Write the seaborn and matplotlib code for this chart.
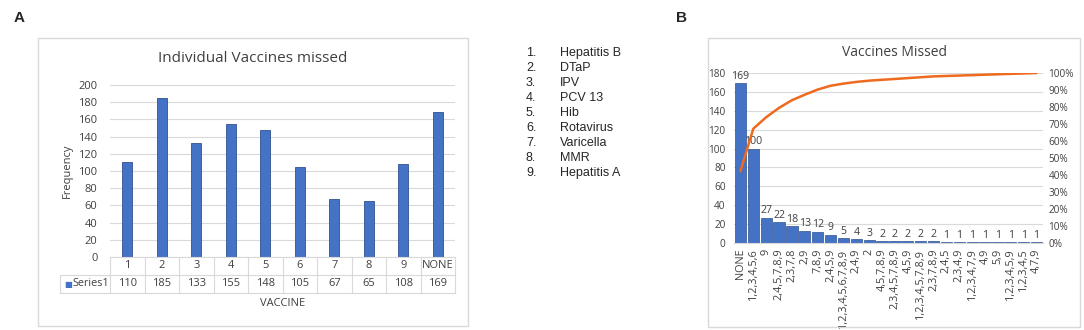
import numpy as np
import pandas as pd
import matplotlib
matplotlib.use("Agg")
import matplotlib.pyplot as plt
import matplotlib.transforms as mtransforms
from matplotlib.patches import Rectangle
import seaborn as sns

# --- data -----------------------------------------------------------------
vaccines_a = ["1", "2", "3", "4", "5", "6", "7", "8", "9", "NONE"]
missed_a = [110, 185, 133, 155, 148, 105, 67, 65, 108, 169]

key_nums = ["1.", "2.", "3.", "4.", "5.", "6.", "7.", "8.", "9."]
key_names = ["Hepatitis B", "DTaP", "IPV", "PCV 13", "Hib", "Rotavirus",
             "Varicella", "MMR", "Hepatitis A"]

combos_b = ["NONE", "1,2,3,4,5,6", "9", "2,4,5,7,8,9", "2,3,7,8", "2,9", "7,8,9",
            "2,4,5,9", "1,2,3,4,5,6,7,8,9", "2,4,9", "2", "4,5,7,8,9",
            "2,3,4,5,7,8,9", "4,5,9", "1,2,3,4,5,7,8,9", "2,3,7,8,9", "2,4,5",
            "2,3,4,9", "1,2,3,4,7,9", "4,9", "5,9", "1,2,3,4,5,9", "1,2,3,4,5",
            "4,7,9"]
missed_b = [169, 100, 27, 22, 18, 13, 12, 9, 5, 4, 3, 2, 2, 2, 2, 2,
            1, 1, 1, 1, 1, 1, 1, 1]

BLUE = "#4472C4"
EDGE = "#2F528F"
ORANGE = "#ED6A1E"
GRID = "#D9D9D9"
TXT = "#404040"

sns.set_style("white")
plt.rcParams["font.family"] = ["Open Sans", "DejaVu Sans"]

W, H = 1084, 330
fig = plt.figure(figsize=(W / 100, H / 100), dpi=100)


def fx(px):
    return px / W


def fy(py):
    return 1 - py / H


# panel letters
fig.text(fx(14), fy(18), "A", fontweight="bold", fontsize=11,
         family="Liberation Sans", va="center")
fig.text(fx(676), fy(18), "B", fontweight="bold", fontsize=11,
         family="Liberation Sans", va="center")

# chart frames
for x0, y0, x1, y1 in [(38, 38, 468, 326), (708, 38, 1080, 327)]:
    fig.patches.append(Rectangle((fx(x0), fy(y1)), fx(x1 - x0), (y1 - y0) / H,
                                 transform=fig.transFigure, fill=False,
                                 edgecolor=GRID, lw=1))

# chart titles, centred on the frames
fig.text(fx(253), fy(59), "Individual Vaccines missed", fontsize=11,
         color=TXT, ha="center", va="center")
fig.text(fx(894), fy(53), "Vaccines Missed", fontsize=10, color=TXT,
         ha="center", va="center")

# --- panel A --------------------------------------------------------------
axA = fig.add_axes([fx(110), fy(257), fx(345), (257 - 85) / H])
dfA = pd.DataFrame({"vaccine": vaccines_a, "freq": missed_a})
sns.barplot(data=dfA, x="vaccine", y="freq", color=BLUE, width=0.3,
            edgecolor=EDGE, linewidth=0.6, saturation=1, ax=axA)
axA.set_ylim(0, 200)
axA.set_xlim(-0.5, len(vaccines_a) - 0.5)
axA.set_yticks(range(0, 201, 20))
axA.yaxis.grid(True, color=GRID, lw=0.8)
axA.set_axisbelow(True)
for s in axA.spines.values():
    s.set_visible(False)
axA.tick_params(axis="y", length=0, labelsize=8, labelcolor=TXT, pad=9)
axA.set_xticks([])
axA.set_xlabel("")
axA.set_ylabel("Frequency", fontsize=8, color=TXT, labelpad=4)

# data table under the chart
row_h = 18 / 172
lab_w = 50 / 345
blend = mtransforms.blended_transform_factory(axA.transData, axA.transAxes)
tab_kw = dict(color=GRID, lw=0.8, clip_on=False)
axA.plot([0, 1], [0, 0], transform=axA.transAxes, **tab_kw)
axA.plot([-lab_w, 1], [-row_h, -row_h], transform=axA.transAxes, **tab_kw)
axA.plot([-lab_w, 1], [-2 * row_h, -2 * row_h], transform=axA.transAxes, **tab_kw)
axA.plot([-lab_w, -lab_w], [-row_h, -2 * row_h], transform=axA.transAxes, **tab_kw)
for i in range(len(vaccines_a) + 1):
    axA.plot([i - 0.5, i - 0.5], [0, -2 * row_h], transform=blend, **tab_kw)
for i, (c, v) in enumerate(zip(vaccines_a, missed_a)):
    axA.text(i, -0.5 * row_h, c, transform=blend, ha="center", va="center",
             fontsize=8, color=TXT)
    axA.text(i, -1.5 * row_h, str(v), transform=blend, ha="center", va="center",
             fontsize=8, color=TXT)
axA.text(-lab_w + 0.012, -1.5 * row_h, "\u25a0", transform=axA.transAxes,
         ha="left", va="center", fontsize=6, color=BLUE,
         family="DejaVu Sans")
axA.text(-lab_w + 0.035, -1.5 * row_h, "Series1", transform=axA.transAxes,
         ha="left", va="center", fontsize=7.8, color=TXT)
axA.text(0.5, -(303 - 257) / 172, "VACCINE", transform=axA.transAxes,
         ha="center", va="center", fontsize=8, color=TXT)

# --- key list -------------------------------------------------------------
for i, (n, name) in enumerate(zip(key_nums, key_names)):
    y = fy(53 + 15 * i)
    fig.text(fx(526), y, n, fontsize=9, family="Liberation Sans", va="center")
    fig.text(fx(560), y, name, fontsize=9, family="Liberation Sans", va="center")

# --- panel B --------------------------------------------------------------
axB = fig.add_axes([fx(734), fy(243), fx(309), (243 - 73) / H])
dfB = pd.DataFrame({"combo": combos_b, "freq": missed_b})
sns.barplot(data=dfB, x="combo", y="freq", color=BLUE, width=0.88,
            edgecolor=EDGE, linewidth=0.5, saturation=1, ax=axB)
axB.set_ylim(0, 180)
axB.set_xlim(-0.5, len(combos_b) - 0.5)
axB.set_yticks(range(0, 181, 20))
axB.yaxis.grid(True, color=GRID, lw=0.8)
axB.set_axisbelow(True)
for s in axB.spines.values():
    s.set_visible(False)
axB.spines["bottom"].set_visible(True)
axB.spines["bottom"].set_color(GRID)
axB.tick_params(axis="y", length=0, labelsize=7.2, labelcolor=TXT, pad=6)
axB.tick_params(axis="x", length=0, labelsize=7.8, labelcolor=TXT, pad=4)
axB.set_xticks(range(len(combos_b)))
axB.set_xticklabels(combos_b, rotation=90)
axB.set_xlabel("")
axB.set_ylabel("")
axB.bar_label(axB.containers[0], fontsize=7.6, color=TXT, padding=1)

cum_pct = np.cumsum(missed_b) / np.sum(missed_b) * 100
axB2 = axB.twinx()
sns.lineplot(x=np.arange(len(combos_b)), y=cum_pct, color=ORANGE, lw=1.8,
             ax=axB2)
axB2.set_ylim(0, 100)
axB2.set_yticks(range(0, 101, 10))
axB2.set_yticklabels([f"{t}%" for t in range(0, 101, 10)])
axB2.tick_params(axis="y", length=0, labelsize=7.2, labelcolor=TXT, pad=4)
for s in axB2.spines.values():
    s.set_visible(False)

fig.savefig("out.png", dpi=100)
